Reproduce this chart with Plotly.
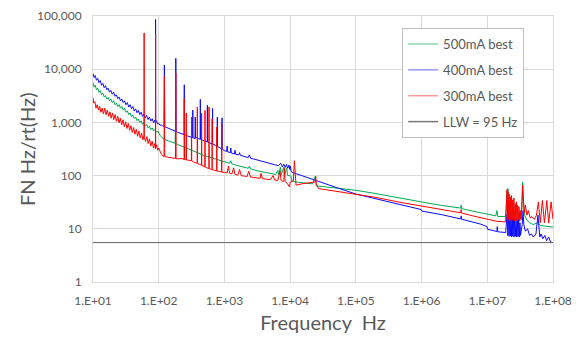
import plotly.graph_objects as go

# ---------------- data ----------------
green_f = [10,10.4,10.8,11.3,11.8,12.3,12.9,13.5,14.1,14.8,15.5,16.2,17,17.8,18.7,19.6,20.6,21.6,22.7,23.8,25,26.2,27.5,28.8,30.2,31.7,33.3,35,36.7,38.5,40.4,42.4,44.5,46.7,49,51.4,54,56.7,59.5,62.4,65.5,68.8,72.2,75.8,79.6,83.5,87.6,92,96.5,100,
           106,112,120,130,140,150,165,178,180,182,195,210,230,260,300,350,400,450,500,550,600,700,800,900,1000,1200,1250,1300,1500,1800,2000,2300,2400,2500,3000,3500,4000,4500,5000,6000,6500,6700,7100,7300,8000,8200,8900,9100,9700,10300,10600,12000,16000,22000,24000,25000,36000,50000,
           1e5,2e5,5e5,1e6,2e6,3.95e6,4e6,4.05e6,6e6,1e7,1.35e7,1.4e7,1.45e7,1.9e7,
           2.0e7,2.03e7,2.06e7,2.1e7,2.2e7,2.3e7,2.4e7,2.5e7,2.7e7,2.9e7,3.1e7,3.3e7,3.45e7,3.55e7,3.7e7,4.0e7,4.4e7,5.0e7,5.8e7,6.5e7,7.5e7,8.5e7,1e8]
green_v = [5600,4600,5000,4100,4400,3700,3950,3300,3550,3000,3200,2750,2950,2550,2750,2350,2550,2150,2300,2000,2150,1850,2000,1700,1850,1550,1650,1400,1500,1280,1380,1180,1260,1080,1160,1000,1070,920,990,850,920,790,850,730,790,690,740,650,690,620,
           560,520,490,465,450,435,420,405,1000,400,385,370,350,330,305,280,262,248,236,228,220,207,196,187,180,170,190,166,157,148,143,137,150,134,125,120,115,112,109,105,125,104,145,103,145,102,140,101,100,98,80,76,73,70,96,64,61,58,
           53,46,38,32,27.5,24.5,28,24,21.5,18.6,17.5,22,17,17,
           50,17,57,18,30,16,25,15,22,14,20,15,76,30,18,14.5,13,12,13,11.5,11.3,11,10.8]

blue_f = [10,10.4,10.8,11.3,11.8,12.3,12.9,13.5,14.1,14.8,15.5,16.2,17,17.8,18.7,19.6,20.6,21.6,22.7,23.8,25,26.2,27.5,28.8,30.2,31.7,33.3,35,36.7,38.5,40.4,42.4,44.5,46.7,49,51.4,54,56.7,59.5,62.4,65.5,68.8,72.2,75.8,79.6,83.5,87.6,89.2,89.6,90,92,96.5,100,
          105,110,116,120.5,122,123.5,130,140,150,160,170,180,182,184,195,210,230,243,245,247,265,285,305,328,330,332,357,360,363,380,400,427,430,433,470,520,547,550,553,600,657,660,663,720,777,780,783,850,917,920,923,1000,
          1080,1100,1120,1230,1250,1270,1420,1450,1480,1650,1700,1750,2000,2300,2400,2500,2800,3200,3700,4300,5000,5800,6600,7200,7600,8000,8400,8800,9200,9600,9900,10100,10400,11000,
          15000,20000,30000,50000,1e5,2e5,5e5,9.9e5,1.01e6,2e6,3.95e6,4e6,4.05e6,8e6,9.9e6,1.01e7,1.4e7,1.42e7,1.44e7,1.9e7,
          2.0e7,2.05e7,2.1e7,2.15e7,2.2e7,2.25e7,2.3e7,2.35e7,2.4e7,2.45e7,2.5e7,2.55e7,2.6e7,2.67e7,2.74e7,2.8e7,2.87e7,2.94e7,3.0e7,3.07e7,3.14e7,3.2e7,
          3.3e7,3.4e7,3.5e7,3.6e7,3.8e7,4.1e7,4.4e7,4.7e7,5.0e7,5.5e7,5.9e7,6.1e7,6.3e7,6.6e7,7.0e7,7.5e7,8.0e7,8.6e7,9.2e7,1e8]
blue_v = [8300,7000,7600,6200,6700,5600,6100,5000,5400,4500,4900,4100,4400,3700,4000,3400,3700,3100,3300,2800,3000,2550,2750,2350,2550,2150,2350,1950,2150,1800,1980,1650,1800,1520,1680,1400,1560,1300,1450,1220,1350,1130,1260,1060,1170,990,1100,960,86000,1000,1080,930,960,
          880,900,840,850,12000,820,810,780,750,720,700,680,16000,670,650,630,600,590,5100,585,565,545,530,515,1700,512,500,1260,505,520,495,485,2700,480,460,440,430,2100,428,410,395,1830,393,375,355,1260,353,335,315,1220,313,295,
          285,360,280,270,330,266,255,300,252,245,270,240,230,218,245,212,205,195,185,176,168,160,154,170,146,165,142,162,138,158,130,150,118,114,
          100,88,74,60,45,37,28,23,21.5,18.5,15.3,17.5,15.2,12.2,11,9.8,8.9,11,8.8,8.5,
          19,7.5,18,7.2,17,7.4,18,7,16,7.3,17,7,15,7.2,16,7,14,7.1,15,7,13,7.5,
          9,12,22,12,9,10,7.5,8,7,8,18,9,7,8,6.5,7.5,6,7,5.6,5.5]

red_f = [10,10.3,10.7,11.1,11.6,12.1,12.6,13.2,13.8,14.4,15.1,15.8,16.5,17.3,18.1,18.9,19.8,20.7,21.7,22.7,23.8,24.9,26.1,27.3,28.6,30,31.4,32.9,34.5,36.1,37.8,39.6,41.5,43.5,45.6,47.8,50,52.4,54.9,57.5,59.6,60,60.4,63,66,69.1,72.4,75.8,79.4,83.2,87.1,89.2,89.6,90,93,96.5,100,
         105,110,116,120.5,122,123.5,130,140,150,160,170,180,182,184,195,210,225,243,245,247,261,263,265,280,300,314,316,318,340,360,385,387,389,420,448,450,452,480,504,506,508,540,581,583,585,620,648,650,652,700,763,765,767,830,908,910,912,1000,
         1100,1150,1200,1300,1380,1450,1600,1700,1800,2000,2200,2350,2500,2800,3100,3500,3600,3800,4200,4600,5000,5500,5800,6500,7000,7300,8000,8200,8400,9000,9500,9800,10000,11200,11600,12000,12300,15000,20000,24000,24500,25000,27000,40000,
         1e5,2e5,5e5,1e6,2e6,3.95e6,4e6,4.05e6,6e6,1e7,1.4e7,1.9e7,
         2.0e7,2.03e7,2.07e7,2.11e7,2.15e7,2.2e7,2.24e7,2.29e7,2.34e7,2.39e7,2.44e7,2.49e7,2.54e7,2.6e7,2.66e7,2.72e7,2.78e7,2.84e7,2.9e7,2.97e7,3.04e7,3.11e7,3.18e7,3.25e7,3.35e7,3.45e7,3.55e7,3.65e7,3.8e7,4.0e7,4.2e7,4.5e7,4.8e7,5.2e7,5.6e7,6.0e7,6.4e7,6.9e7,7.4e7,8.05e7,8.6e7,9.35e7,1e8]
red_v = [2900,2300,2450,1850,2150,1700,2000,1550,1850,1450,1850,1400,1700,1300,1580,1200,1500,1130,1400,1050,1300,980,1200,900,1120,830,1030,770,950,710,870,650,800,600,740,550,690,510,630,470,560,48000,520,440,540,400,490,360,440,330,400,320,47000,330,380,300,330,
         280,250,235,230,7300,228,225,220,218,215,212,210,8500,208,206,205,210,200,2800,200,198,1500,197,195,192,190,1250,189,180,176,170,1950,169,162,157,1480,156,150,146,1680,145,140,136,1950,135,132,130,1170,129,126,123,820,122,120,117,950,116,115,
         112,150,110,108,140,105,102,130,100,98,96,120,94,92,90,89,110,88,86,85,84,100,83,81,120,80,78,137,77,72,64,61,75,80,190,85,66,70,73,76,97,70,57,53,
         45,39,31,26.6,23,20,23,19.8,17.5,15,13.8,13.5,
         55,14,50,15,45,14,40,15,42,14.5,35,15,38,14,30,15,32,14,28,15,26,14,22,15,25,66,30,20,28,18,22,16,17,15,18,32,13,34,13,34,12.8,32,15]

llw_f = [10, 1e8]
llw_v = [5.5, 5.5]

series_names = ["500mA best", "400mA best", "300mA best", "LLW = 95 Hz"]
x_tickvals = [1e1, 1e2, 1e3, 1e4, 1e5, 1e6, 1e7, 1e8]
x_ticktext = ["1.E+01", "1.E+02", "1.E+03", "1.E+04", "1.E+05", "1.E+06", "1.E+07", "1.E+08"]
y_tickvals = [1, 10, 100, 1000, 10000, 100000]
y_ticktext = ["1", "10", "100", "1,000", "10,000", "100,000"]

# ---------------- figure ----------------
line_cols = ["rgb(0,170,80)", "rgb(10,10,255)", "rgb(255,0,0)", "rgb(100,100,100)"]
legend_cols = ["rgb(140,215,170)", "rgb(150,150,255)", "rgb(255,150,150)", "rgb(120,120,120)"]
data = [(green_f, green_v), (blue_f, blue_v), (red_f, red_v), (llw_f, llw_v)]

fig = go.Figure()
for (fx, fy), c in zip(data, line_cols):
    fig.add_trace(go.Scatter(x=fx, y=fy, mode="lines", line=dict(color=c, width=1),
                             showlegend=False, hoverinfo="skip"))
for i, (name, c) in enumerate(zip(series_names, legend_cols)):
    fig.add_trace(go.Scatter(x=[None], y=[None], mode="lines", name=name,
                             line=dict(color=c, width=1.5), legendgroup=str(i)))

font_fam = "Lato, 'Open Sans', sans-serif"
grid = "#d9d9d9"
fig.update_layout(
    width=580, height=337,
    margin=dict(l=93, r=27, t=16, b=55),
    paper_bgcolor="white", plot_bgcolor="white",
    font=dict(family=font_fam, color="#595959"),
    legend=dict(x=0.672, y=0.955, xanchor="left", yanchor="top",
                bgcolor="white", bordercolor="#c0c0c0", borderwidth=1,
                font=dict(size=13, color="#595959"), tracegroupgap=6,
                itemwidth=30),
    annotations=[dict(text="FN Hz/rt(Hz)", xref="paper", yref="paper",
                      x=(27 - 93) / 460, y=0.5, xanchor="center", yanchor="middle",
                      textangle=-90, showarrow=False,
                      font=dict(size=20, color="#595959", family=font_fam))],
)
fig.update_xaxes(type="log", range=[1, 8], tickvals=x_tickvals, ticktext=x_ticktext,
                 automargin=False,
                 showgrid=True, gridcolor=grid, gridwidth=1,
                 showline=True, linecolor=grid, mirror=True,
                 ticks="outside", ticklen=8, tickcolor="rgba(0,0,0,0)",
                 tickfont=dict(size=12, color="#595959"),
                 title=dict(text="Frequency  Hz", font=dict(size=20, color="#595959"), standoff=8))
fig.update_yaxes(type="log", range=[0, 5], tickvals=y_tickvals, ticktext=y_ticktext,
                 automargin=False,
                 showgrid=True, gridcolor=grid, gridwidth=1,
                 showline=True, linecolor=grid, mirror=True,
                 ticks="outside", ticklen=8, tickcolor="rgba(0,0,0,0)",
                 tickfont=dict(size=12, color="#595959"))

fig.write_html("out.html")
